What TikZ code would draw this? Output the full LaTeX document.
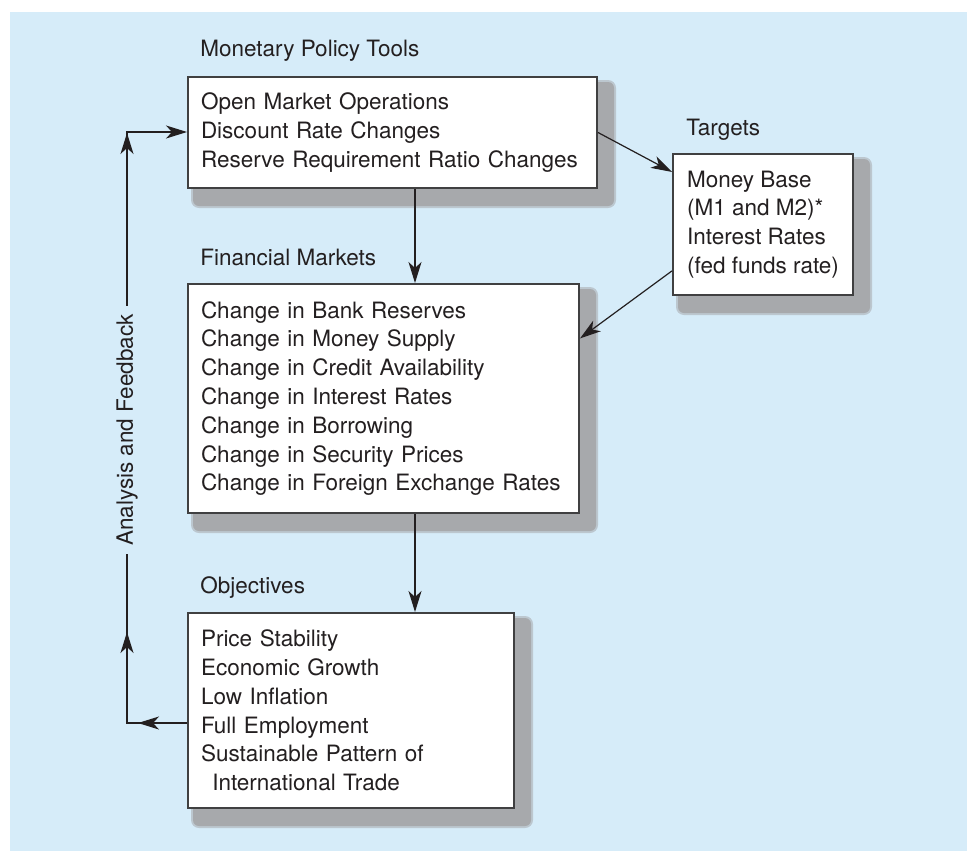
\documentclass[tikz,border=0pt]{standalone}
\usepackage{fontspec}
\setmainfont{TeX Gyre Heros}
\usetikzlibrary{calc, arrows.meta, backgrounds, decorations.markings}

\definecolor{bgblue}{RGB}{214,236,249}
\definecolor{shadowgray}{RGB}{167,169,172}
\definecolor{boxline}{RGB}{64,64,65}
\definecolor{inktext}{RGB}{35,31,32}

\tikzset{
    >={Stealth[length=10.5pt, width=6.5pt, inset=3pt]},
    box/.style={draw=boxline, line width=1pt, fill=white, anchor=north west,
        align=left, inner xsep=6.5pt, inner ysep=0pt, text=inktext,
        font=\fontsize{11.25}{14.4}\selectfont},
    title/.style={anchor=base west, inner sep=0pt, text=inktext,
        font=\fontsize{11.25}{14.4}\selectfont},
    conn/.style={draw=inktext, line width=0.6pt},
}

\begin{document}
\begin{tikzpicture}[x=0.5pt, y=-0.5pt]
    \useasboundingbox (0,0) rectangle (967,851);

    % boxes
    \node[box, text width=191.5pt, minimum height=55.5pt] (tools) at (187,76)
        {Open Market Operations\\Discount Rate Changes\\Reserve Requirement Ratio Changes};
    \node[box, minimum width=90pt, minimum height=70.5pt] (targets) at (672,153)
        {Money Base\\(M1 and M2)*\\Interest Rates\\(fed funds rate)};
    \node[box, text width=182.5pt, minimum height=114.5pt] (fin) at (187,283)
        {Change in Bank Reserves\\Change in Money Supply\\Change in Credit Availability\\
         Change in Interest Rates\\Change in Borrowing\\Change in Security Prices\\
         Change in Foreign Exchange Rates};
    \node[box, text width=150pt, minimum height=97.5pt] (obj) at (187,612)
        {Price Stability\\Economic Growth\\Low Inflation\\Full Employment\\
         Sustainable Pattern of\\\hspace*{0.5em}International Trade};

    % titles
    \node[title] (toolstitle) at ($(tools.north west)+(13,-20)$) {Monetary Policy Tools};
    \node[title] (targetstitle) at ($(targets.north west)+(14,-18)$) {Targets};
    \node[title] (fintitle) at ($(fin.north west)+(13,-18)$) {Financial Markets};
    \node[title] (objtitle) at ($(obj.north west)+(13,-19)$) {Objectives};

    % connectors
    \coordinate (col) at (415,0);
    \draw[conn, ->] (tools.south -| col) -- (fin.north -| col);
    \draw[conn, ->] (fin.south -| col) -- (obj.north -| col);
    \draw[conn, ->] (tools.east) -- (targets.150);
    \draw[conn, ->] (targets.207) -- (fin.17);

    % feedback loop
    \coordinate (fbbot) at (127,723);
    \coordinate (fbtop) at (127,132);
    \draw[conn, ->, postaction={decorate}, decoration={markings,
        mark=at position 24.5pt with {\arrow{>}},
        mark=at position 75.5pt with {\arrow{>}},
        mark=at position 325pt with {\arrow{>}}}]
        (obj.west |- fbbot) -- (fbbot) -- (fbtop) -- (tools.west |- fbtop);
    \node[title, anchor=center, rotate=90, fill=bgblue, inner xsep=4pt, inner ysep=2pt]
        (fblabel) at (127,430) {Analysis and Feedback};

    \begin{scope}[on background layer]
        \fill[white] (0,0) rectangle (967,851);
        \fill[bgblue] (10,12) rectangle (967,851);
        \foreach \b in {tools, targets, fin, obj} {
            \fill[shadowgray!55!bgblue, rounded corners=4pt]
                ($(\b.south west)+(4,19)$) rectangle ($(\b.north east)+(18,4)$);
            \fill[shadowgray, rounded corners=3pt]
                ($(\b.south west)+(6,17)$) rectangle ($(\b.north east)+(16,6)$);
        }
    \end{scope}
\end{tikzpicture}
\end{document}
